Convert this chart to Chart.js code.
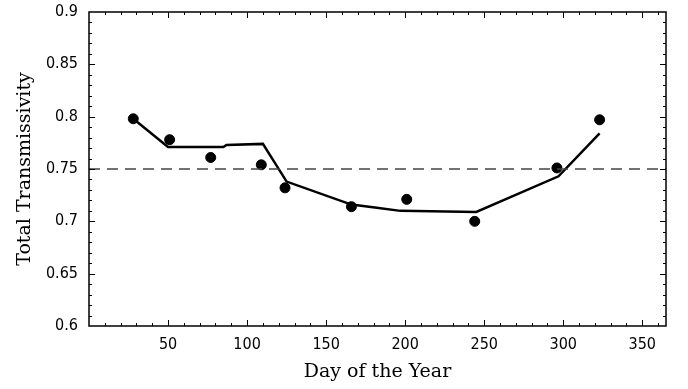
<!DOCTYPE html>
<html>
<head>
<meta charset="utf-8">
<script src="https://cdn.jsdelivr.net/npm/chart.js@4"></script>
<style>
  html, body { margin: 0; padding: 0; background: #fff; }
  #wrap { width: 688px; height: 389px; }
</style>
</head>
<body>
<div id="wrap"><canvas id="grafica"></canvas></div>
<script>
// Datos medidos (puntos)
const diasMedidos = [28, 51, 77, 109, 124, 166, 201, 244, 296, 323];
const transMedida = [0.798, 0.778, 0.761, 0.754, 0.732, 0.714, 0.721, 0.700, 0.751, 0.797];

// Curva del modelo
const diasModelo = [28, 50, 85, 87, 110, 125, 166, 182, 197, 245, 297, 323];
const transModelo = [0.798, 0.771, 0.771, 0.773, 0.774, 0.738, 0.716, 0.713, 0.710, 0.709, 0.743, 0.784];

// Línea de referencia
const diasRef = [0, 365];
const transRef = [0.75, 0.75];

const ticksX = [50, 100, 150, 200, 250, 300, 350];
const ticksY = [0.6, 0.65, 0.7, 0.75, 0.8, 0.85, 0.9];

const toXY = (xs, ys) => xs.map((x, i) => ({ x: x, y: ys[i] }));

const fuenteTicks = { family: "'DejaVu Sans Condensed', sans-serif", size: 16, lineHeight: 1 };
const fuenteTitulo = { family: "'DejaVu Serif', serif", size: 19 };

// Marco y marcas hacia dentro, estilo Mathematica
const marcoPlugin = {
    id: 'marco',
    afterDraw(chart) {
        const ctx = chart.ctx;
        const a = chart.chartArea;
        const sx = chart.scales.x;
        const sy = chart.scales.y;
        ctx.save();
        ctx.strokeStyle = '#000';
        ctx.lineWidth = 1;
        const drawTick = (x1, y1, x2, y2) => {
            ctx.beginPath();
            ctx.moveTo(x1, y1);
            ctx.lineTo(x2, y2);
            ctx.stroke();
        };
        for (let d = 10; d < 365; d += 10) {
            const px = Math.round(sx.getPixelForValue(d)) + 0.5;
            const len = d % 50 === 0 ? 6 : 3;
            drawTick(px, a.bottom, px, a.bottom - len);
            drawTick(px, a.top, px, a.top + len);
        }
        for (let i = 1; i < 30; i++) {
            const v = 0.6 + i * 0.01;
            const py = Math.round(sy.getPixelForValue(v)) + 0.5;
            const len = i % 5 === 0 ? 6 : 3;
            drawTick(a.left, py, a.left + len, py);
            drawTick(a.right, py, a.right - len, py);
        }
        ctx.lineWidth = 1.5;
        ctx.strokeRect(a.left, a.top, a.right - a.left, a.bottom - a.top);
        ctx.restore();
    }
};

const ctx = document.getElementById('grafica').getContext('2d');
new Chart(ctx, {
    type: 'scatter',
    data: {
        datasets: [
            {
                label: 'Referencia',
                data: toXY(diasRef, transRef),
                showLine: true,
                borderColor: '#444',
                borderWidth: 1.5,
                borderDash: [11, 7],
                pointRadius: 0
            },
            {
                label: 'Modelo',
                data: toXY(diasModelo, transModelo),
                showLine: true,
                borderColor: '#000',
                borderWidth: 2.5,
                pointRadius: 0,
                tension: 0
            },
            {
                label: 'Medido',
                data: toXY(diasMedidos, transMedida),
                showLine: false,
                backgroundColor: '#000',
                borderColor: '#000',
                pointRadius: 5,
                pointHoverRadius: 5
            }
        ]
    },
    options: {
        responsive: true,
        maintainAspectRatio: false,
        animation: false,
        events: [],
        layout: { padding: { left: 0, right: 22, top: 12, bottom: 0 } },
        plugins: {
            legend: { display: false },
            tooltip: { enabled: false }
        },
        scales: {
            x: {
                type: 'linear',
                min: 0,
                max: 365,
                afterBuildTicks: (scale) => { scale.ticks = ticksX.map(v => ({ value: v })); },
                afterFit: (scale) => {
                    scale.height = 63;
                    scale.paddingLeft = 0;
                    scale.paddingRight = 0;
                },
                grid: { display: false, drawTicks: false },
                border: { display: false },
                ticks: {
                    color: '#000',
                    padding: 11,
                    maxRotation: 0,
                    font: fuenteTicks
                },
                title: {
                    display: true,
                    text: 'Day of the Year',
                    color: '#000',
                    padding: { top: 0, bottom: 6 },
                    font: fuenteTitulo
                }
            },
            y: {
                type: 'linear',
                min: 0.6,
                max: 0.9,
                afterBuildTicks: (scale) => { scale.ticks = ticksY.map(v => ({ value: v })); },
                afterFit: (scale) => {
                    scale.width = 89;
                    scale.paddingTop = 0;
                    scale.paddingBottom = 0;
                },
                grid: { display: false, drawTicks: false },
                border: { display: false },
                ticks: {
                    color: '#000',
                    padding: 11,
                    callback: (v) => String(parseFloat(v.toFixed(2))),
                    font: fuenteTicks
                },
                title: {
                    display: true,
                    text: 'Total Transmissivity',
                    color: '#000',
                    padding: { top: 14, bottom: 0 },
                    font: fuenteTitulo
                }
            }
        }
    },
    plugins: [marcoPlugin]
});
</script>
</body>
</html>
